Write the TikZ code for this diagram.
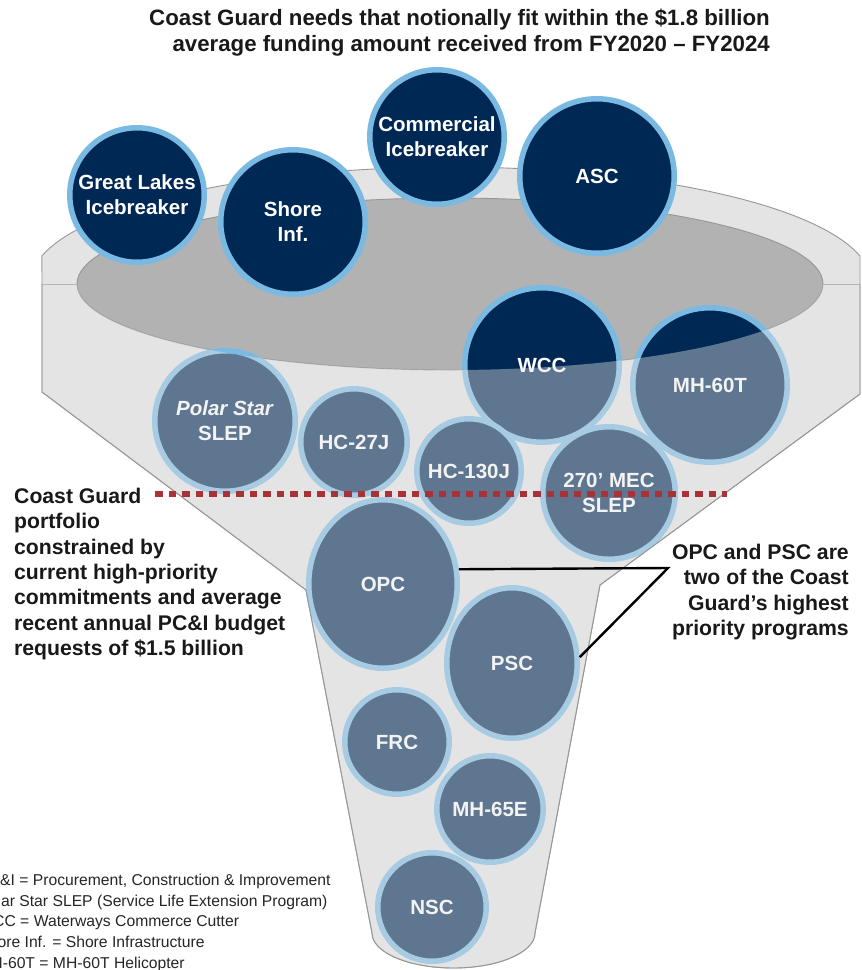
\documentclass[tikz,border=0pt]{standalone}
\usepackage{fontspec}
\setmainfont{Liberation Sans}
\usetikzlibrary{shapes.geometric}
\definecolor{navy}{RGB}{0,40,85}
\definecolor{rim}{RGB}{122,186,226}
\definecolor{face}{RGB}{228,228,228}
\definecolor{well}{RGB}{178,178,178}
\definecolor{edgegray}{RGB}{150,150,150}
\definecolor{capred}{RGB}{168,50,56}

% lower wall of the funnel, from the rim line down the neck and back
\def\wallpath{(42,284) -- (42,392) -- (306,590) -- (372,933)
	arc[start angle=180, end angle=0, x radius=81.5, y radius=35]
	-- (600,585) -- (860,394) -- (860,284)}

\begin{document}
\begin{tikzpicture}[
		x=1pt,y=-1pt,
		outline/.style={draw=edgegray,line width=0.9pt},
		frontface/.style={fill=face,fill opacity=0.42},
		prog/.style={circle,draw=rim,line width=5.5pt,fill=navy,text=white,inner sep=0pt,
			align=center,font=\bfseries\fontsize{20.5}{25}\selectfont},
		headline/.style={inner sep=0pt,align=right,text=black!90,font=\bfseries\fontsize{22.25}{26}\selectfont},
		sidenote/.style={inner sep=0pt,text=black!90,font=\bfseries\fontsize{21.2}{25.3}\selectfont},
		abbrev/.style={inner sep=0pt,align=left,text=black!85,font=\fontsize{15.7}{20.7}\selectfont},
		cutline/.style={draw=capred,line width=5.8pt,dash pattern=on 7.5pt off 6pt},
		callout/.style={draw=black,line width=2.4pt}
	]
	\fill[white] (0,0) rectangle (862,970);
	\useasboundingbox (0,0) rectangle (862,970);

	%funnel: back wall with its top edge, rim line and the opening
	\path[outline,fill=face] \wallpath -- (860,256)
		arc[start angle=-13.1, end angle=-166.9, x radius=420, y radius=115] -- cycle;
	\draw[outline] (42,284) -- (860,284);
	\draw[outline,fill=well] (450,284) ellipse[x radius=373, y radius=86];

	%programs
	\foreach \id/\cx/\cy/\r/\txt in {
			glib/137/195/70/{Great Lakes\\Icebreaker},
			cib/437/137/70/{Commercial\\Icebreaker},
			shore/293/222/75/{Shore\\Inf.},
			asc/597/176/80/{ASC},
			wcc/542/365/80/{WCC},
			mhsixty/710/385/80/{MH-60T},
			polar/225/421/73/{\textit{Polar Star}\\SLEP},
			hctwo/354/442/56/{HC-27J},
			hcone/469/471/55/{HC-130J},
			mec/609/493/69/{270’ MEC\\SLEP},
			frc/397/742/55/{FRC},
			mhsixtyfive/490/809/56/{MH-65E},
			nsc/432/907/57/{NSC}}
		\node[prog,minimum size=2*\r-5.5] (\id) at (\cx,\cy) {\txt};
	\node[prog,ellipse,minimum width=2*77-5.5,minimum height=2*87-5.5] (opc) at (383,584) {OPC};
	\node[prog,ellipse,minimum width=2*68-5.5,minimum height=2*78-5.5] (psc) at (512,663) {PSC};

	%front wall of the funnel over everything below the opening
	\path[frontface] \wallpath -- (823,284)
		arc[start angle=0, end angle=180, x radius=373, y radius=86] -- cycle;
	\draw[outline] \wallpath;

	%texts
	\node[headline,anchor=north east] (head) at (770,9)
		{Coast Guard needs that notionally fit within the \$1.8 billion\\
		average funding amount received from FY2020 – FY2024};
	\node[sidenote,align=left,anchor=north west] (portfolio) at (14,488)
		{Coast Guard\\portfolio\\constrained by\\current high-priority\\
		commitments and average\\recent annual PC\&I budget\\requests of \$1.5 billion};
	\node[sidenote,align=right,anchor=north east] (priority) at (849,544)
		{OPC and PSC are\\two of the Coast\\Guard’s highest\\priority programs};
	\node[abbrev,anchor=north west] (abbr) at (-21.8,874)
		{PC\&I = Procurement, Construction \& Improvement\\
		Polar Star SLEP (Service Life Extension Program)\\
		WCC = Waterways Commerce Cutter\\
		Shore Inf. = Shore Infrastructure\\
		MH-60T = MH-60T Helicopter};

	%budget line
	\coordinate (capL) at (155,494);
	\coordinate (capR) at (727,494);
	\draw[cutline] (capL) -- (capR);

	%callout to OPC and PSC
	\coordinate (bend) at (668,568);
	\draw[callout] (opc.11) -- (bend) -- (psc.5);
\end{tikzpicture}
\end{document}
